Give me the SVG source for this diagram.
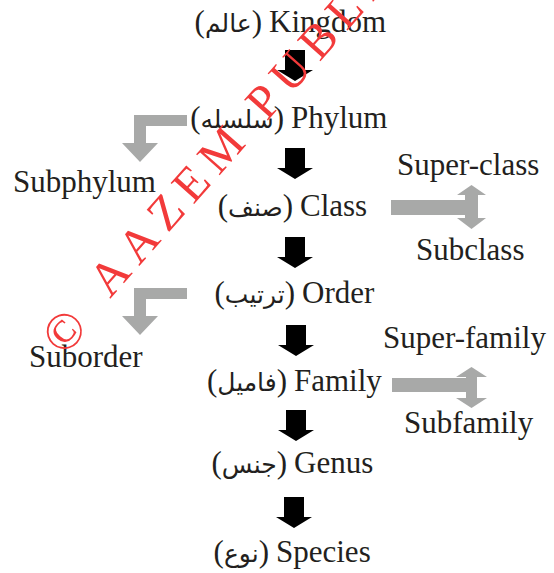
<svg xmlns="http://www.w3.org/2000/svg" width="554" height="573" viewBox="0 0 554 573">
  <style>
    .lbl { font-family: "Liberation Serif", "Times New Roman", serif; font-size: 31px; fill: #231f20; }
    .ar { font-family: "Liberation Serif", "DejaVu Sans", serif; font-size: 31px; fill: #231f20; text-anchor: end; }
    .ar tspan.fa { font-family: "DejaVu Sans", sans-serif; font-size: 25px; }
    .down { fill: #000000; }
    .side { fill: #a8a9a8; }
    .mark { font-family: "Liberation Serif", "Times New Roman", serif; fill: #f23a3a; }
  </style>
  <defs>
    <!-- black downward block arrow, origin at top centre of shaft -->
    <path id="downArrow" d="M-10,0 H10 V20 H18 L0,31 L-18,20 H-10 Z"/>
  </defs>

  <rect width="554" height="573" fill="#ffffff"/>

  <!-- main ranks -->
  <g id="kingdom">
    <text class="ar" x="262" y="32">(<tspan class="fa">عالم</tspan>)</text>
    <text class="lbl" x="269" y="32">Kingdom</text>
  </g>
  <g id="phylum">
    <text class="ar" x="284" y="128">(<tspan class="fa" font-size="23">سلسله</tspan>)</text>
    <text class="lbl" x="291" y="128">Phylum</text>
  </g>
  <g id="class">
    <text class="ar" x="293" y="216">(<tspan class="fa">صنف</tspan>)</text>
    <text class="lbl" x="300" y="216">Class</text>
  </g>
  <g id="order">
    <text class="ar" x="295" y="303">(<tspan class="fa">ترتیب</tspan>)</text>
    <text class="lbl" x="302" y="303">Order</text>
  </g>
  <g id="family">
    <text class="ar" x="287" y="391">(<tspan class="fa">فامیل</tspan>)</text>
    <text class="lbl" x="294" y="391">Family</text>
  </g>
  <g id="genus">
    <text class="ar" x="287" y="473">(<tspan class="fa">جنس</tspan>)</text>
    <text class="lbl" x="294" y="473">Genus</text>
  </g>
  <g id="species">
    <text class="ar" x="269" y="562">(<tspan class="fa">نوع</tspan>)</text>
    <text class="lbl" x="276" y="562">Species</text>
  </g>

  <!-- intermediate ranks -->
  <g id="subphylum"><text class="lbl" x="13" y="192">Subphylum</text></g>
  <g id="superclass"><text class="lbl" x="397" y="175">Super-class</text></g>
  <g id="subclass"><text class="lbl" x="416" y="260">Subclass</text></g>
  <g id="suborder"><text class="lbl" x="29" y="367">Suborder</text></g>
  <g id="superfamily"><text class="lbl" x="383" y="348">Super-family</text></g>
  <g id="subfamily"><text class="lbl" x="404" y="433">Subfamily</text></g>

  <!-- connectors -->
  <g id="connectors">
    <use href="#downArrow" class="down" x="295" y="50"/>
    <use href="#downArrow" class="down" x="295" y="148"/>
    <use href="#downArrow" class="down" x="295" y="237"/>
    <use href="#downArrow" class="down" x="296" y="325"/>
    <use href="#downArrow" class="down" x="296" y="410"/>
    <use href="#downArrow" class="down" x="294" y="497"/>

    <!-- phylum to subphylum -->
    <path class="side" d="M187,115 H134 V143 H122 L140,162 L158,143 H146 V126 H187 Z"/>
    <!-- order to suborder -->
    <path class="side" d="M187,288 H134 V316 H122 L140,335 L158,316 H146 V299 H187 Z"/>
    <!-- class to super-class / subclass -->
    <path class="side" d="M391,200 H465 V195 H457 L471.5,185 L486,195 H478 V218 H486 L471.5,229 L457,218 H465 V215 H391 Z"/>
    <!-- family to super-family / subfamily -->
    <path class="side" d="M392,378 H466 V377 H456 L471.5,367 L487,377 H477 V398 H487 L471.5,408 L456,398 H466 V392 H392 Z"/>
  </g>

  <!-- publisher stamp -->
  <g id="stamp">
    <text class="mark" font-size="52" text-anchor="middle" dominant-baseline="central" transform="translate(64,331) rotate(-48)">©</text>
    <text class="mark" font-size="48" letter-spacing="9" transform="translate(110,299) rotate(-48.5)">AAZEM PUBLI</text>
  </g>
</svg>
